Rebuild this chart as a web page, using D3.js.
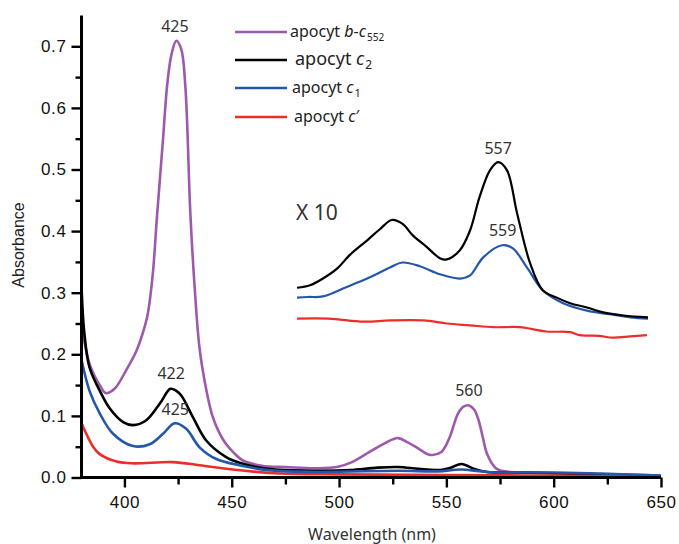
<!DOCTYPE html>
<html>
<head>
<meta charset="utf-8">
<script src="https://cdn.jsdelivr.net/npm/d3@7"></script>
<style>
  html, body { margin: 0; padding: 0; background: #fff; }
  svg { display: block; }
</style>
</head>
<body>
<svg id="chart" width="679" height="544"></svg>
<script>
// ---------- DATA ----------
const xTicks = [400, 425, 450, 475, 500, 525, 550, 575, 600, 625, 650];
const xTickLabels = ["400", "450", "500", "550", "600", "650"];
const yTicks = [0, 0.05, 0.1, 0.15, 0.2, 0.25, 0.3, 0.35, 0.4, 0.45, 0.5, 0.55, 0.6, 0.65, 0.7];
const yTickLabels = ["0.0", "0.1", "0.2", "0.3", "0.4", "0.5", "0.6", "0.7"];

// apocyt b-c552 (purple)
const bc552Wl  = [380, 383.7, 388.5, 391.3, 395.4, 400.8, 405.4, 408.5, 410.9, 413.2, 415.2, 418, 420, 422, 424.2, 426.5, 428.4, 430.7, 432.6, 435, 438, 441, 444, 447, 451, 455, 464, 475, 490, 500, 506, 514, 521, 527.5, 532, 537, 542, 547.5, 551.5, 555.3, 558, 560.5, 563, 565, 567, 569, 572.8, 577, 590, 610, 630, 650];
const bc552Abs = [0.25, 0.185, 0.150, 0.137, 0.144, 0.174, 0.204, 0.234, 0.266, 0.33, 0.425, 0.55, 0.64, 0.688, 0.709, 0.695, 0.634, 0.43, 0.315, 0.21, 0.145, 0.100, 0.074, 0.056, 0.040, 0.028, 0.019, 0.017, 0.015, 0.018, 0.025, 0.041, 0.055, 0.064, 0.057, 0.047, 0.037, 0.041, 0.065, 0.103, 0.115, 0.117, 0.110, 0.093, 0.065, 0.038, 0.016, 0.010, 0.008, 0.006, 0.005, 0.003];

// apocyt c2 (black)
const c2Wl  = [380, 381.2, 383.7, 388.5, 393.2, 399.4, 404, 410.2, 416.5, 421.4, 424, 426.5, 431.9, 438.1, 447.4, 453.6, 467, 490, 505, 518, 527.5, 537, 546, 552, 557, 563, 569, 580, 600, 625, 650];
const c2Abs = [0.312, 0.239, 0.179, 0.141, 0.112, 0.090, 0.085, 0.093, 0.120, 0.144, 0.141, 0.133, 0.098, 0.060, 0.033, 0.024, 0.014, 0.011, 0.012, 0.016, 0.017, 0.014, 0.012, 0.016, 0.022, 0.014, 0.009, 0.008, 0.007, 0.004, 0.002];

// apocyt c1 (blue)
const c1Wl  = [380, 383.7, 388.5, 394.7, 404, 411.8, 418, 423.4, 428.8, 435, 442.8, 453.6, 467, 490, 527.5, 546, 557, 569, 600, 625, 650];
const c1Abs = [0.191, 0.141, 0.104, 0.071, 0.051, 0.054, 0.071, 0.088, 0.079, 0.049, 0.030, 0.020, 0.012, 0.009, 0.011, 0.010, 0.013, 0.009, 0.008, 0.006, 0.003];

// apocyt c' (red)
const cpWl  = [380, 385.4, 388.5, 396.3, 404, 422.5, 435, 450.4, 470, 500, 550, 600, 650];
const cpAbs = [0.088, 0.050, 0.038, 0.026, 0.023, 0.025, 0.020, 0.013, 0.007, 0.005, 0.004, 0.003, 0.001];

// X 10 inset (500-600 nm, absorbance x 10)
const insetC2Wl  = [500, 503.7, 507.4, 511.4, 515, 520, 523.6, 527, 530, 533, 537, 540.7, 542.7, 546.4, 549.3, 552, 555, 557.3, 559.8, 562.7, 566.4, 570, 574, 577.8, 582.6, 587.2, 593, 600];
const insetC2Abs = [0.118, 0.122, 0.133, 0.149, 0.171, 0.195, 0.213, 0.228, 0.222, 0.203, 0.184, 0.166, 0.164, 0.179, 0.211, 0.265, 0.309, 0.322, 0.309, 0.239, 0.158, 0.114, 0.102, 0.093, 0.086, 0.078, 0.073, 0.070];
const insetC1Wl  = [500, 503, 507.4, 514, 520, 526.5, 530, 535, 540.7, 546.4, 549.3, 553, 558.4, 561.5, 565.5, 570, 575.8, 582.6, 589, 595, 600];
const insetC1Abs = [0.102, 0.103, 0.104, 0.119, 0.133, 0.151, 0.159, 0.153, 0.140, 0.133, 0.138, 0.167, 0.187, 0.182, 0.151, 0.114, 0.093, 0.081, 0.075, 0.070, 0.068];
const insetCpWl  = [500, 509, 519, 526.5, 536, 542.7, 549.3, 556, 563.5, 571, 577.8, 580.6, 586, 590, 595, 599.7];
const insetCpAbs = [0.068, 0.068, 0.063, 0.065, 0.065, 0.060, 0.057, 0.054, 0.054, 0.047, 0.046, 0.041, 0.040, 0.037, 0.039, 0.041];

const peakLabels = ["425", "422", "425", "560", "557", "559"];

// ---------- DRAW ----------
const svg = d3.select("#chart");
const x = d3.scaleLinear().domain([380, 650]).range([81.5, 661]);
const y = d3.scaleLinear().domain([0, 0.75]).range([477.5, 15.5]);
const xi = d3.scaleLinear().domain([500, 600]).range([297, 648]);
const yi = d3.scaleLinear().domain([0, 0.5]).range([y(0.19), y(0.69)]);

const colors = { bc552: "#9d59ab", c2: "#000000", c1: "#2457aa", cp: "#ec2e2a" };

const zip = (a, b) => a.map((v, i) => [v, b[i]]);
const mainLine = d3.line().x(d => x(d[0])).y(d => y(d[1])).curve(d3.curveCatmullRom.alpha(0.5));
const insetLine = d3.line().x(d => xi(d[0])).y(d => yi(d[1])).curve(d3.curveCatmullRom.alpha(0.5));

// inset curves
[[insetCpWl, insetCpAbs, colors.cp], [insetC1Wl, insetC1Abs, colors.c1], [insetC2Wl, insetC2Abs, colors.c2]]
  .forEach(([w, a, c]) => {
    svg.append("path").attr("d", insetLine(zip(w, a)))
      .attr("fill", "none").attr("stroke", c).attr("stroke-width", 2.2).attr("stroke-linejoin", "round");
  });

// main curves
[[bc552Wl, bc552Abs, colors.bc552], [c2Wl, c2Abs, colors.c2], [cpWl, cpAbs, colors.cp], [c1Wl, c1Abs, colors.c1]]
  .forEach(([w, a, c]) => {
    svg.append("path").attr("d", mainLine(zip(w, a)))
      .attr("fill", "none").attr("stroke", c).attr("stroke-width", 2.6).attr("stroke-linejoin", "round");
  });

const tickFont = "'Liberation Sans', Arial, sans-serif";
// axes
const xAxis = d3.axisBottom(x).tickValues(xTicks).tickSize(10).tickPadding(8)
  .tickFormat(d => (d % 50 === 0 ? xTickLabels[(d - 400) / 50] : ""));
const gx = svg.append("g").attr("transform", `translate(0,${y(0)})`).call(xAxis);
gx.select(".domain").attr("d", `M${x(380)},0H${x(650)}`).attr("stroke-width", 3);
gx.selectAll(".tick line").attr("stroke-width", 2.4).attr("y2", d => (d % 50 === 0 ? 10 : 7));
gx.selectAll(".tick text").attr("font-family", tickFont).attr("font-size", 17)
  .attr("letter-spacing", 0.6).attr("fill", "#111");

const yAxis = d3.axisLeft(y).tickValues(yTicks).tickSize(10).tickPadding(5)
  .tickFormat(d => { const k = Math.round(d * 100); return k % 10 === 0 ? yTickLabels[k / 10] : ""; });
const gy = svg.append("g").attr("transform", `translate(${x(380)},0)`).call(yAxis);
gy.select(".domain").attr("d", `M0,${y(0.75)}V${y(0) + 1.5}`).attr("stroke-width", 3);
gy.selectAll(".tick line").attr("stroke-width", 2.4).attr("x2", d => (Math.round(d * 100) % 10 === 0 ? -10 : -6));
gy.selectAll(".tick text").attr("font-family", tickFont).attr("font-size", 17)
  .attr("letter-spacing", 0.6).attr("fill", "#111");

// axis titles
svg.append("text").attr("x", 372).attr("y", 540).attr("text-anchor", "middle")
  .attr("font-family", "'Noto Sans', sans-serif").attr("font-size", 16).attr("fill", "#333")
  .text("Wavelength (nm)");
svg.append("text").attr("transform", "translate(24,245) rotate(-90)").attr("text-anchor", "middle")
  .attr("font-family", tickFont).attr("font-size", 16).attr("fill", "#222")
  .text("Absorbance");

// peak annotations
const annFont = "'Noto Sans', sans-serif";
const ann = [
  [x(423.5), y(0.709) - 9, peakLabels[0]],
  [x(421.8), y(0.144) - 10, peakLabels[1]],
  [x(423.7), y(0.088) - 8, peakLabels[2]],
  [x(560.5), y(0.117) - 9, peakLabels[3]],
  [xi(557.3), yi(0.322) - 8, peakLabels[4]],
  [xi(558.6), yi(0.187) - 9, peakLabels[5]]
];
ann.forEach(([ax, ay, t]) => {
  svg.append("text").attr("x", ax).attr("y", ay).attr("text-anchor", "middle")
    .attr("font-family", annFont).attr("font-size", 16).attr("fill", "#333").text(t);
});
svg.append("text").attr("x", 296).attr("y", 220).attr("font-family", annFont)
  .attr("font-size", 21).attr("fill", "#333").text("X 10");

// legend
const legend = [
  { c: colors.bc552, y: 32, tx: 290, fs: 16, parts: [["apocyt ", "normal"], ["b", "italic"], ["-", "normal"], ["c", "italic"]], sub: "552", subSize: 10 },
  { c: colors.c2, y: 60, tx: 295, fs: 18, parts: [["apocyt ", "normal"], ["c", "italic"]], sub: "2", subSize: 12 },
  { c: colors.c1, y: 88, tx: 292, fs: 16, parts: [["apocyt ", "normal"], ["c", "italic"]], sub: "1", subSize: 11 },
  { c: colors.cp, y: 117, tx: 294, fs: 16, parts: [["apocyt ", "normal"], ["c", "italic"], ["\u2032", "normal"]], sub: null }
];
legend.forEach(L => {
  svg.append("line").attr("x1", 235).attr("x2", 287).attr("y1", L.y).attr("y2", L.y)
    .attr("stroke", L.c).attr("stroke-width", 2.6);
  const t = svg.append("text").attr("x", L.tx).attr("y", L.y + 5)
    .attr("font-family", annFont).attr("font-size", L.fs).attr("fill", "#222");
  L.parts.forEach(([s, st]) => t.append("tspan").attr("font-style", st).text(s));
  if (L.sub) t.append("tspan").attr("font-size", L.subSize).attr("dy", 4).attr("dx", 1).text(L.sub);
});
</script>
</body>
</html>
